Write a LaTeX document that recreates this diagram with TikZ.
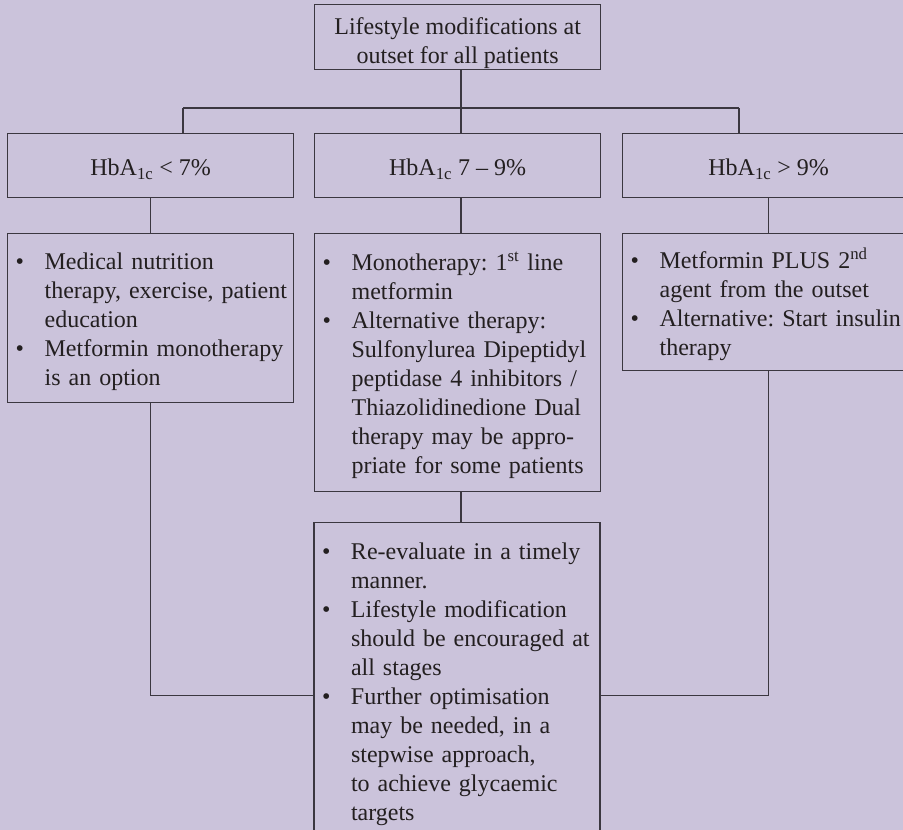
\documentclass[tikz,border=0pt]{standalone}
\usepackage{fontspec}
\setmainfont{Liberation Serif}
\usetikzlibrary{calc}
\definecolor{lavender}{HTML}{CBC3DB}
\definecolor{ink}{HTML}{3B3740}
\definecolor{print}{HTML}{231F20}
\tikzset{box/.style={draw=ink, line width=1.3pt, text=print, inner xsep=8pt, inner ysep=0pt, font=\fontsize{24}{29}\selectfont\frenchspacing, execute at begin node={\rule{0pt}{24pt}}}}
\tikzset{head/.style={box, align=center, minimum width=286pt, anchor=north west}}
\tikzset{list/.style={box, align=left, text width=270pt}}
\tikzset{link/.style={ink, line width=1.3pt}}
\newcommand{\bl}[1]{\makebox[29pt][l]{\textbullet}\mbox{#1}}
\newcommand{\nx}[1]{\hspace*{29pt}\mbox{#1}}

\begin{document}
\begin{tikzpicture}[x=1pt, y=-1pt]
    \useasboundingbox (0, 0) rectangle (903, 830);
    \clip (0, 0) rectangle (903, 830);
    \fill [lavender] (0, 0) rectangle (903, 830);
    \node [head, minimum height=65pt] (outset) at (314, 4) {\rule{0pt}{28pt}Lifestyle modifications at\\outset for all patients};
    \node [head, minimum height=64pt] (low) at (7, 133) {HbA\textsubscript{1c} < 7\%};
    \node [head, minimum height=64pt] (mid) at (314, 133) {HbA\textsubscript{1c} 7 -- 9\%};
    \node [head, minimum height=64pt, minimum width=292pt] (high) at (622, 133) {HbA\textsubscript{1c} > 9\%};
    \node [list, minimum height=169pt, anchor=north west] (lowtx) at (7, 233) {\bl{Medical nutrition}\\ \nx{therapy, exercise, patient}\\ \nx{education}\\ \bl{Metformin monotherapy}\\ \nx{is an option}};
    \node [list, minimum height=258pt, anchor=north west] (midtx) at (314, 233) {\bl{Monotherapy: 1\textsuperscript{st} line}\\ \nx{metformin}\\ \bl{Alternative therapy:}\\ \nx{Sulfonylurea Dipeptidyl}\\ \nx{peptidase 4 inhibitors /}\\ \nx{Thiazolidinedione Dual}\\ \nx{therapy may be appro-}\\ \nx{priate for some patients}};
    \node [list, text width=276pt, minimum height=137pt, anchor=north west] (hightx) at (622, 233) {\bl{Metformin PLUS 2\textsuperscript{nd}}\\ \nx{agent from the outset}\\ \bl{Alternative: Start insulin}\\ \nx{therapy}};
    \node [list, minimum height=316pt, anchor=north] (review) at (457, 522) {\bl{Re-evaluate in a timely}\\ \nx{manner.}\\ \bl{Lifestyle modification}\\ \nx{should be encouraged at}\\ \nx{all stages}\\ \bl{Further optimisation}\\ \nx{may be needed, in a}\\ \nx{stepwise approach,}\\ \nx{to achieve glycaemic}\\ \nx{targets}};
    % tree from the top box
    \coordinate (hub) at (461, 108);
    \coordinate (busL) at (183, 108);
    \coordinate (busR) at (739, 108);
    \draw [link] (outset.south -| hub) -- (hub);
    \draw [link] (busL) -- (busR);
    \draw [link] (busL) -- (busL |- low.north);
    \draw [link] (hub) -- (hub |- mid.north);
    \draw [link] (busR) -- (busR |- high.north);
    \draw [link] (low.south) -- (lowtx.north);
    \draw [link] (mid.south -| hub) -- (hub |- midtx.north);
    \draw [link] (high.south) -- (hightx.north);
    % everything ends in the review box
    \draw [link] (midtx.south -| hub) -- (hub |- review.north);
    \draw [link] (lowtx.south) |- ([yshift=-15pt]review.west);
    \draw [link] (hightx.south) |- ([yshift=-15pt]review.east);
\end{tikzpicture}
\end{document}
